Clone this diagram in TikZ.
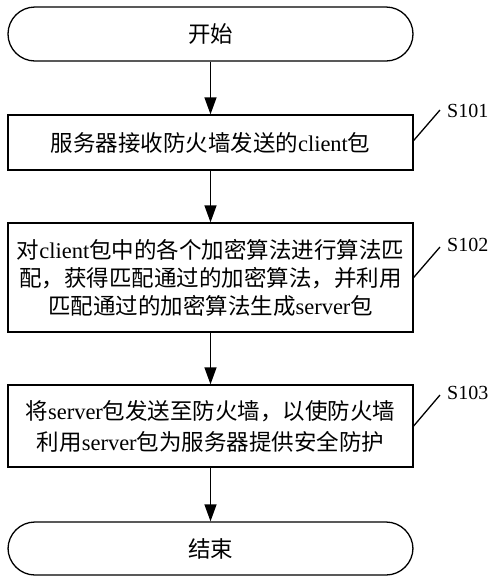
\documentclass[tikz,border=0pt]{standalone}
\usepackage{fontspec}
\setmainfont{Liberation Serif}
\newfontfamily\cjk{Noto Sans CJK SC}
\usetikzlibrary{arrows.meta}
\begin{document}
\begin{tikzpicture}[x=1pt,y=-1pt,
  box/.style={draw, line width=1.3pt, minimum width=405pt, inner sep=0pt, align=center, font=\fontsize{22.5}{28}\selectfont},
  term/.style={box, rounded corners=27pt},
  flow/.style={line width=1.3pt, -{Triangle[length=17pt,width=12pt]}},
  tag/.style={font=\fontsize{20}{24}\selectfont, anchor=west, inner sep=0pt},
  lead/.style={line width=1.3pt}]
\useasboundingbox (0,0) rectangle (500,582);
\node[term, minimum height=54pt] (start) at (210.5,34) {\cjk 开始};
\node[box, minimum height=55pt] (b1) at (210.5,142.5) {{\cjk 服务器接收防火墙发送的}client{\cjk 包}};
\node[box, minimum height=109pt] (b2) at (210.5,277.5) {{\cjk 对}client{\cjk 包中的各个加密算法进行算法匹}\\{\cjk 配，获得匹配通过的加密算法，并利用}\\{\cjk 匹配通过的加密算法生成}server{\cjk 包}};
\node[box, minimum height=82pt, font=\fontsize{22.5}{31}\selectfont] (b3) at (210.5,426) {{\cjk 将}server{\cjk 包发送至防火墙，以使防火墙}\\{\cjk 利用}server{\cjk 包为服务器提供安全防护}};
\node[term, minimum height=53pt] (end) at (210.5,548.5) {\cjk 结束};
\draw[flow] (start) -- (b1);
\draw[flow] (b1) -- (b2);
\draw[flow] (b2) -- (b3);
\draw[flow] (b3) -- (end);
\coordinate (c1) at (440,110);
\coordinate (c2) at (440,247);
\coordinate (c3) at (440,395);
\draw[lead] ([yshift=2pt]b1.east) -- (c1);
\draw[lead] (b2.east) -- (c2);
\draw[lead] (b3.east) -- (c3);
\node[tag] (s1) at (447,111) {S101};
\node[tag] (s2) at (447,245) {S102};
\node[tag] (s3) at (447,393) {S103};
\end{tikzpicture}
\end{document}
